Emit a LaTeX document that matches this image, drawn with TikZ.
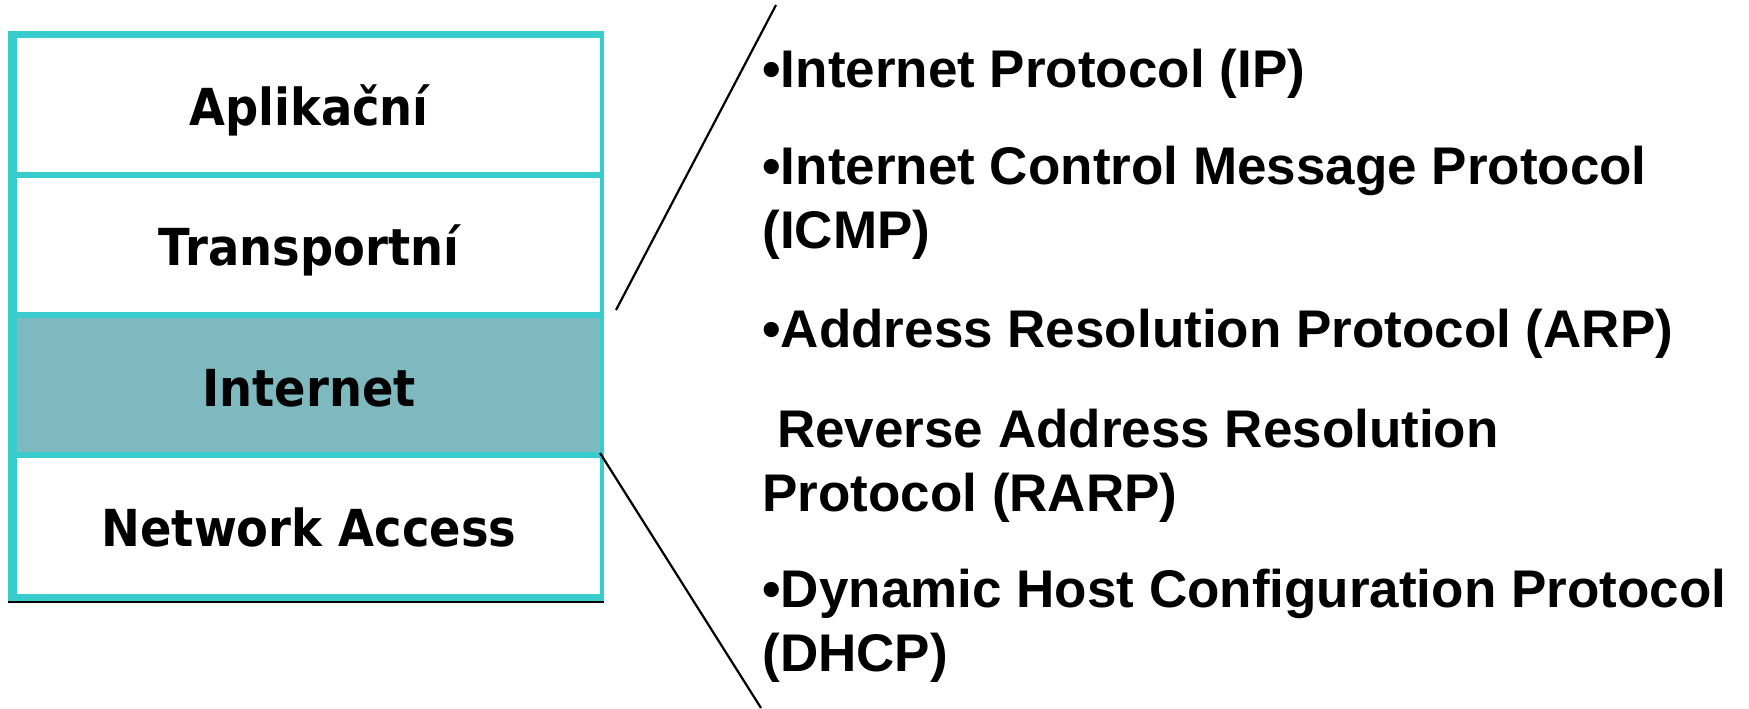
\documentclass[tikz,border=0pt]{standalone}
\usepackage{fontspec}
\setmainfont{Liberation Sans}
\newfontfamily\layerfont[FakeStretch=0.91]{DejaVu Sans}
\definecolor{layerrim}{RGB}{56,204,204}
\definecolor{layerhi}{RGB}{127,185,192}
\tikzset{
  layerlabel/.style={anchor=base, inner sep=0pt, font=\layerfont\bfseries\fontsize{25.5pt}{30pt}\selectfont},
  % multi-line entries are anchored on the baseline of their last line
  protolist/.style={anchor=base west, inner sep=0pt, align=left,
    font=\bfseries\fontsize{26.5pt}{31.8pt}\selectfont},
  leader/.style={black, line width=1.1pt}
}
\begin{document}
\begin{tikzpicture}[x=0.5pt,y=-0.5pt]
\useasboundingbox (0,0) rectangle (1749,708);
% layer stack: rim, shadow and the four cells
\fill[black] (8,600) rectangle (604,603);
\fill[layerrim] (8,31) rectangle (604,601);
\fill[white]   (17,38)  rectangle (600,172);
\fill[white]   (17,178) rectangle (600,312);
\fill[layerhi] (17,318) rectangle (600,452);
\fill[white]   (17,458) rectangle (600,594);
\node[layerlabel] (app) at (309,125) {Aplikační};
\node[layerlabel] (tra) at (309,265) {Transportní};
\node[layerlabel] (inet) at (309,406) {Internet};
\node[layerlabel] (acc) at (309,546) {Network Access};
% leader lines opening from the Internet layer
\coordinate (upA) at (616,310);
\coordinate (upB) at (776,5);
\coordinate (loA) at (600,453);
\coordinate (loB) at (761,708);
\draw[leader] (upA) -- (upB);
\draw[leader] (loA) -- (loB);
% protocols of the Internet layer
\node[protolist] (ip) at (762,87) {•Internet Protocol (IP)};
\node[protolist] (icmp) at (762,248) {•Internet Control Message Protocol\\(ICMP)};
\node[protolist] (arp) at (762,347) {•Address Resolution Protocol (ARP)};
\node[protolist] (rarp) at (762,511) {\ Reverse Address Resolution\\Protocol (RARP)};
\node[protolist] (dhcp) at (762,671) {•Dynamic Host Configuration Protocol\\(DHCP)};
\end{tikzpicture}
\end{document}
